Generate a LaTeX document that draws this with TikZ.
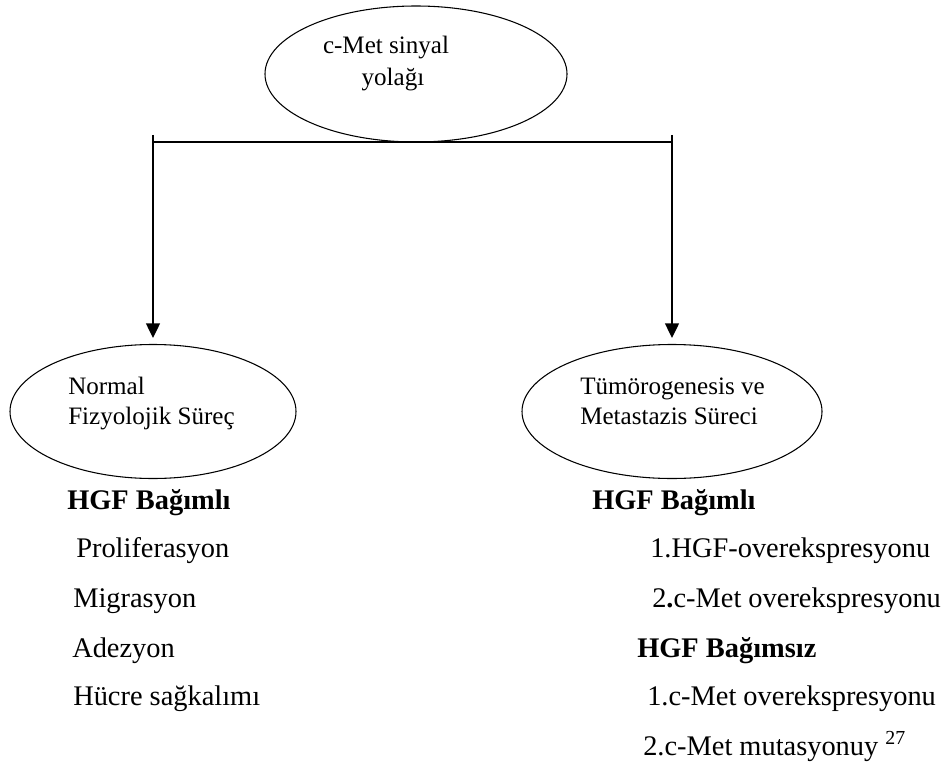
\documentclass[tikz,border=0pt]{standalone}
\usepackage{fontspec}
\setmainfont{Liberation Serif}
\usetikzlibrary{shapes.geometric,arrows.meta}
\tikzset{
  oval/.style={draw, ellipse, line width=0.8pt, inner sep=0pt},
  otext/.style={font=\fontsize{18.8pt}{24pt}\selectfont, anchor=base west, inner sep=0pt},
  ltext/.style={font=\fontsize{21.3pt}{26pt}\selectfont, anchor=base west, inner sep=0pt},
  htext/.style={font=\fontsize{21.3pt}{26pt}\selectfont\bfseries, anchor=base west, inner sep=0pt},
  bar/.style={line width=1.1pt},
  arr/.style={line width=1.1pt, -{Triangle[length=11pt,width=10.5pt]}, shorten >=4.5pt}
}
\begin{document}
\begin{tikzpicture}[x=0.75pt,y=-0.75pt]
\useasboundingbox (0,0) rectangle (948,763);
% ellipses
\node[oval, minimum width=226.5pt, minimum height=102pt] (top) at (416,74) {};
\node[oval, minimum width=214.5pt, minimum height=100.5pt] (L) at (153,411.5) {};
\node[oval, minimum width=225pt, minimum height=100.5pt] (R) at (672,411.5) {};
% ellipse texts
\node[otext, anchor=base] (t1) at (386,54) {c-Met sinyal};
\node[otext, anchor=base] (t2) at (393,86) {yolağı};
\node[otext] (l1) at (68,394) {Normal};
\node[otext] (l2) at (68,424) {Fizyolojik Süreç};
\node[otext] (r1) at (580,394) {Tümörogenesis ve};
\node[otext] (r2) at (580,424) {Metastazis Süreci};
% connectors
\coordinate (tl) at (153,135);
\coordinate (tr) at (672,135);
\coordinate (hl) at (153,142);
\coordinate (hr) at (672,142);
\draw[bar] (hl) -- (hr);
\draw[arr] (tl) -- (L.north);
\draw[arr] (tr) -- (R.north);
% left list
\node[htext] (lh) at (67,509) {HGF Bağımlı};
\node[ltext] (la) at (76,557) {Proliferasyon};
\node[ltext] (lb) at (73,607) {Migrasyon};
\node[ltext] (lc) at (72,657) {Adezyon};
\node[ltext] (ld) at (73,705) {Hücre sağkalımı};
% right list
\node[htext] (rh) at (592,509) {HGF Bağımlı};
\node[ltext] (ra) at (650,557) {1.HGF-overekspresyonu};
\node[ltext] (rb) at (652,607) {2\textbf{.}c-Met overekspresyonu};
\node[htext] (rh2) at (637,657) {HGF Bağımsız};
\node[ltext] (rc) at (647,705) {1.c-Met overekspresyonu};
\node[ltext] (rd) at (643,755) {2.c-Met mutasyonuy \textsuperscript{27}};
\end{tikzpicture}
\end{document}
